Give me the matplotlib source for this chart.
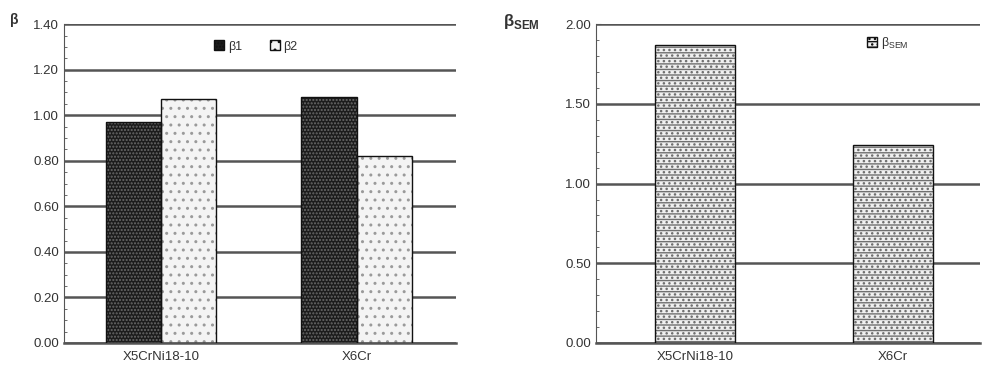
import matplotlib
matplotlib.use("Agg")
import matplotlib.pyplot as plt
from matplotlib.patches import Patch
from matplotlib.ticker import MultipleLocator, FormatStrFormatter

plt.rcParams['font.family'] = ['Liberation Sans', 'DejaVu Sans']
plt.rcParams['mathtext.fontset'] = 'custom'
plt.rcParams['mathtext.rm'] = 'Liberation Sans'
plt.rcParams['mathtext.bf'] = 'Liberation Sans:bold'

# data
steels = ['X5CrNi18-10', 'X6Cr']
beta1 = [0.97, 1.08]
beta2 = [1.07, 0.82]
beta_sem = [1.87, 1.24]

text_col = '#333333'
grid_col = '#555555'


def hatched_bar(ax, x, h, w, face, hatch, hatch_col):
    # fill + hatch first, then a black outline on top
    ax.bar(x, h, w, color=face, hatch=hatch, edgecolor=hatch_col, linewidth=0, zorder=2)
    ax.bar(x, h, w, fill=False, edgecolor='#111111', linewidth=1.0, zorder=3)


def style_axis(ax, ymax, major, minor):
    ax.set_ylim(0, ymax)
    ax.yaxis.set_major_locator(MultipleLocator(major))
    ax.yaxis.set_minor_locator(MultipleLocator(minor))
    ax.yaxis.set_major_formatter(FormatStrFormatter('%.2f'))
    ax.grid(axis='y', color=grid_col, linewidth=1.8, zorder=0)
    ax.set_axisbelow(True)
    for s in ('top', 'right'):
        ax.spines[s].set_visible(False)
    ax.spines['left'].set_color(grid_col)
    ax.spines['bottom'].set_color(grid_col)
    ax.spines['bottom'].set_linewidth(1.8)
    ax.tick_params(axis='y', which='both', direction='in', colors=grid_col,
                   labelcolor=text_col, labelsize=9.5)
    ax.tick_params(axis='y', which='minor', length=2)
    ax.tick_params(axis='x', length=0, labelcolor=text_col, labelsize=9.5, pad=6)


fig = plt.figure(figsize=(9.82, 3.72), dpi=100)

# left chart: beta1 / beta2
ax1 = fig.add_axes([0.0652, 0.078, 0.399, 0.857])
w = 0.283
for i in range(len(steels)):
    hatched_bar(ax1, i - w / 2, beta1[i], w, '#1c1c1c', '.....', '#6a6a6a')
    hatched_bar(ax1, i + w / 2, beta2[i], w, '#f4f4f4', '..', '#9a9a9a')
ax1.set_xlim(-0.495, 1.505)
ax1.set_xticks(range(len(steels)))
ax1.set_xticklabels(steels)
style_axis(ax1, 1.40, 0.20, 0.05)
fig.text(0.010, 0.935, 'β', fontsize=10, color=text_col, fontweight='bold')
h1 = [Patch(facecolor='#1c1c1c', edgecolor='#111111', hatch='.....'),
      Patch(facecolor='#f4f4f4', edgecolor='#111111', hatch='..')]
ax1.legend(h1, ['β1', 'β2'], ncol=2, frameon=False, loc='center',
           bbox_to_anchor=(0.49, 0.93), fontsize=9, handlelength=0.8,
           handleheight=0.8, handletextpad=0.3, columnspacing=2.2,
           labelcolor=text_col)

# right chart: beta SEM
ax2 = fig.add_axes([0.607, 0.078, 0.391, 0.857])
w2 = 0.40
for i in range(len(steels)):
    hatched_bar(ax2, i, beta_sem[i], w2, '#f0f0f0', '---...', '#707070')
ax2.set_xlim(-0.5, 1.44)
ax2.set_xticks(range(len(steels)))
ax2.set_xticklabels(steels)
style_axis(ax2, 2.00, 0.50, 0.10)
fig.text(0.512, 0.93, r'$\mathbf{\beta}_{\mathbf{SEM}}$', fontsize=12, color=text_col)
h2 = [Patch(facecolor='#f0f0f0', edgecolor='#111111', hatch='---...')]
ax2.legend(h2, [r'$\mathrm{\beta}_{\mathrm{SEM}}$'], frameon=False, loc='center',
           bbox_to_anchor=(0.76, 0.94), fontsize=9, handlelength=0.8,
           handleheight=0.8, handletextpad=0.3, labelcolor=text_col)

fig.savefig('out.png', dpi=100)
